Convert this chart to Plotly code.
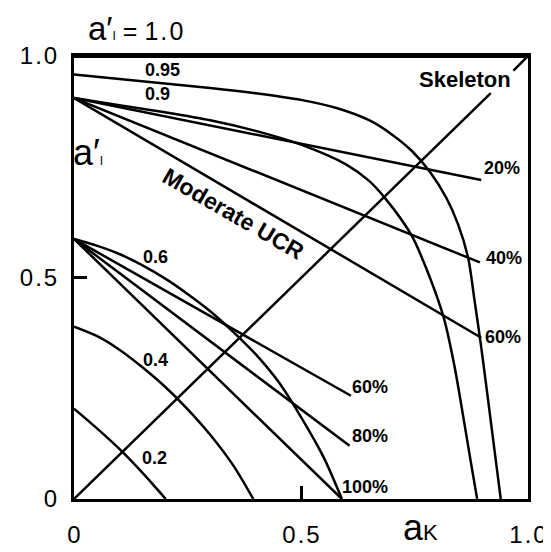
import plotly.graph_objects as go

# ---- data (a_K on x, a'_I on y) ----
# GCR curves (constant a'_I at a_K = 0)
curve_095_x = [0.000, 0.100, 0.200, 0.300, 0.400, 0.500, 0.580, 0.650, 0.700, 0.745, 0.785, 0.820, 0.846, 0.868, 0.882, 0.896, 0.910, 0.925, 0.940]
curve_095_y = [0.958, 0.948, 0.938, 0.928, 0.916, 0.901, 0.882, 0.855, 0.823, 0.785, 0.737, 0.680, 0.620, 0.545, 0.450, 0.350, 0.240, 0.120, 0.000]

curve_090_x = [0.000, 0.100, 0.200, 0.300, 0.400, 0.500, 0.600, 0.650, 0.686, 0.743, 0.780, 0.815, 0.838, 0.858, 0.873, 0.888]
curve_090_y = [0.905, 0.889, 0.873, 0.855, 0.831, 0.800, 0.755, 0.718, 0.678, 0.596, 0.510, 0.407, 0.300, 0.182, 0.090, 0.000]

curve_060_x = [0.000, 0.050, 0.100, 0.150, 0.200, 0.250, 0.300, 0.350, 0.400, 0.450, 0.500, 0.550, 0.590]
curve_060_y = [0.587, 0.572, 0.553, 0.528, 0.498, 0.463, 0.424, 0.378, 0.327, 0.265, 0.185, 0.094, 0.000]

curve_040_x = [0.000, 0.050, 0.100, 0.150, 0.200, 0.250, 0.300, 0.350, 0.395]
curve_040_y = [0.389, 0.368, 0.337, 0.298, 0.254, 0.203, 0.145, 0.077, 0.000]

curve_020_x = [0.000, 0.050, 0.100, 0.150, 0.202]
curve_020_y = [0.204, 0.160, 0.113, 0.060, 0.000]

# Moderate UCR lines from a'_I = 0.9
ucr20_x = [0.000, 0.897]
ucr20_y = [0.905, 0.720]
ucr40_x = [0.000, 0.894]
ucr40_y = [0.905, 0.534]
ucr60_x = [0.000, 0.897]
ucr60_y = [0.905, 0.364]

# lines from a'_I = 0.6
gcr60_x = [0.000, 0.610]
gcr60_y = [0.587, 0.233]
gcr80_x = [0.000, 0.607]
gcr80_y = [0.587, 0.120]
gcr100_x = [0.000, 0.590]
gcr100_y = [0.587, 0.000]

# skeleton diagonal (interrupted by its label)
skel_a_x = [0.000, 0.918]
skel_a_y = [0.000, 0.916]
skel_b_x = [0.968, 1.000]
skel_b_y = [0.967, 1.000]

tick_vals = [0, 0.5, 1.0]
tick_text = ["0", "0\u200a.\u200a5", "1\u200a.\u200a0"]

curve_labels = ["0.95", "0.9", "0.6", "0.4", "0.2"]
curve_label_x = [0.195, 0.184, 0.180, 0.180, 0.177]
curve_label_y = [0.969, 0.915, 0.547, 0.314, 0.092]

pct_labels = ["20%", "40%", "60%", "60%", "80%", "100%"]
pct_label_x = [0.943, 0.947, 0.945, 0.653, 0.653, 0.642]
pct_label_y = [0.747, 0.545, 0.366, 0.253, 0.142, 0.028]

FONT = "Liberation Sans, Arial, sans-serif"

fig = go.Figure()

def add_line(x, y, smooth):
    fig.add_trace(go.Scatter(
        x=x, y=y, mode="lines",
        line=dict(color="black", width=2.5,
                  shape="spline" if smooth else "linear",
                  **({"smoothing": 0.8} if smooth else {})),
        hoverinfo="skip", showlegend=False))

for cx, cy in [(curve_095_x, curve_095_y), (curve_090_x, curve_090_y),
               (curve_060_x, curve_060_y), (curve_040_x, curve_040_y),
               (curve_020_x, curve_020_y)]:
    add_line(cx, cy, True)

for lx, ly in [(ucr20_x, ucr20_y), (ucr40_x, ucr40_y), (ucr60_x, ucr60_y),
               (gcr60_x, gcr60_y), (gcr80_x, gcr80_y), (gcr100_x, gcr100_y),
               (skel_a_x, skel_a_y), (skel_b_x, skel_b_y)]:
    add_line(lx, ly, False)

ann = []
for t, x, y in zip(curve_labels, curve_label_x, curve_label_y):
    ann.append(dict(x=x, y=y, xref="x", yref="y", text=t, showarrow=False,
                    font=dict(family=FONT, size=18, color="black", weight="bold")))
for t, x, y in zip(pct_labels, pct_label_x, pct_label_y):
    ann.append(dict(x=x, y=y, xref="x", yref="y", text=t, showarrow=False,
                    font=dict(family=FONT, size=18, color="black", weight="bold")))

ann.append(dict(x=0.861, y=0.948, xref="x", yref="y", text="Skeleton", showarrow=False,
                font=dict(family=FONT, size=22, color="black", weight="bold")))
ann.append(dict(x=0.352, y=0.643, xref="x", yref="y", text="Moderate UCR", showarrow=False,
                textangle=30,
                font=dict(family=FONT, size=23, color="black", weight="bold")))

# title a'_I = 1.0
ann.append(dict(x=0.026, y=1.109, xref="paper", yref="paper", xanchor="left", yanchor="top",
                text="a′<span style='font-size:12px'>I</span><span style='font-size:25px'> = 1\u200a.\u200a0</span>",
                showarrow=False, font=dict(family=FONT, size=33, color="black")))
# y axis label
ann.append(dict(x=0.03, y=0.782, xref="paper", yref="paper", xanchor="center", yanchor="middle",
                text="a′<span style='font-size:12px'>I</span>",
                showarrow=False, font=dict(family=FONT, size=36, color="black")))
# x axis label
ann.append(dict(x=0.72, y=-0.116, xref="paper", yref="paper", xanchor="left", yanchor="bottom",
                text="a<span style='font-size:22px'>K</span>",
                showarrow=False, font=dict(family=FONT, size=36, color="black")))

axis_common = dict(range=[0, 1], showgrid=False, zeroline=False, showline=True,
                   linecolor="black", linewidth=3, mirror=True,
                   ticks="inside", ticklen=13, tickwidth=2.5, tickcolor="black",
                   tickvals=tick_vals, ticktext=tick_text,
                   tickfont=dict(family=FONT, size=24, color="black"),
                   fixedrange=True)

fig.update_layout(
    width=551, height=552,
    margin=dict(l=65, r=22, t=48, b=45),
    paper_bgcolor="white", plot_bgcolor="white",
    xaxis=dict(**axis_common, ticklabelstandoff=12),
    yaxis=dict(**axis_common, ticklabelstandoff=9),
    annotations=ann,
    shapes=[dict(type="line", xref="paper", yref="paper", x0=0, x1=1, y0=1, y1=1,
                 line=dict(color="black", width=4))],
)

fig.write_html("out.html")
